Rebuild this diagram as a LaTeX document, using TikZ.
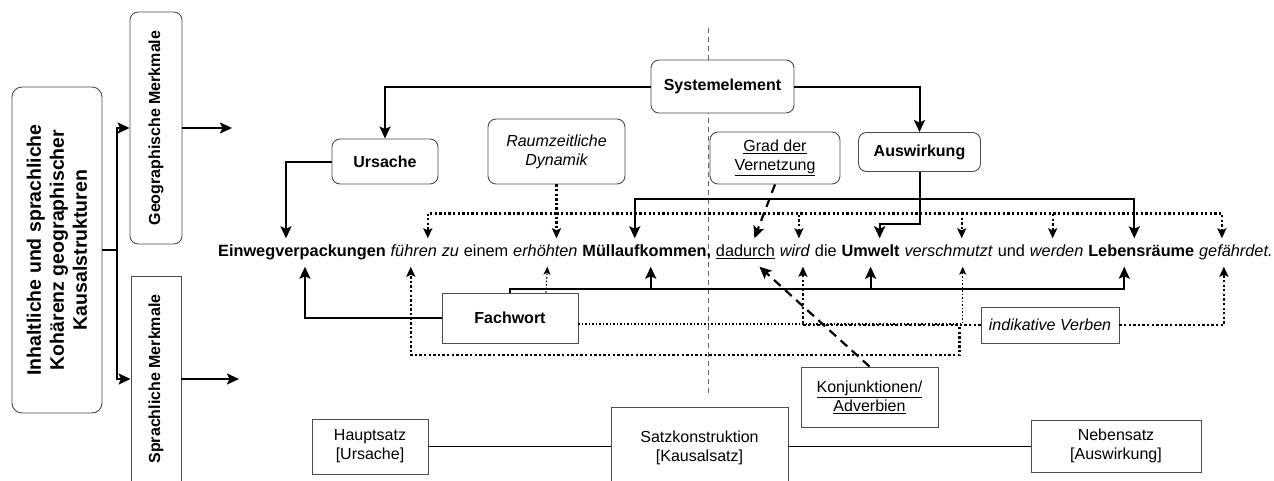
\documentclass[tikz,border=0pt]{standalone}
\usepackage{fontspec}
\setmainfont{Liberation Sans}
\usetikzlibrary{%
    arrows.meta,
    calc,
    positioning
}
\newcommand{\boxfont}{\fontsize{16}{19}\selectfont}
\newcommand{\sentfont}{\fontsize{16.3}{19}\selectfont}
\newcommand{\wordgap}{4.5pt}
\tikzset{headarrow/.style = {-{Stealth[length=12pt,width=11pt,inset=2.5pt]}, line width=2pt}}
\tikzset{dotarrow/.style = {-{Stealth[length=10pt,width=9pt,inset=2pt]}, line width=2.3pt, dash pattern=on 2.3pt off 2.3pt}}
\tikzset{thindotarrow/.style = {-{Stealth[length=8pt,width=7pt,inset=2pt]}, line width=1.1pt, dash pattern=on 1.5pt off 2pt}}
\tikzset{dasharrow/.style = {-{Stealth[length=12pt,width=11pt,inset=2.5pt]}, line width=2.2pt, dash pattern=on 9pt off 6pt}}
\tikzset{roundbox/.style = {draw=black!70, line width=0.9pt, rounded corners=8pt, fill=white, align=center, inner sep=2pt}}
\tikzset{plainbox/.style = {draw=black!70, line width=0.9pt, fill=white, align=center, inner sep=2pt}}
\tikzset{word/.style = {inner xsep=0pt, inner ysep=6pt, text height=12pt, text depth=4pt, font=\sentfont}}

\begin{document}
\begin{tikzpicture}[x=1pt, y=-1pt, font=\boxfont]
    \useasboundingbox (0,0) rectangle (1274,480);

    % separator
    \draw[black!60, line width=0.8pt, dash pattern=on 5pt off 4pt] (708,28) -- (708,393);

    % left column
    \node[roundbox, rotate=90, rounded corners=10pt, minimum width=326pt, minimum height=90pt,
        font=\fontsize{19.5}{23}\selectfont\bfseries] (box-ikk) at (57,250)
        {Inhaltliche und sprachliche\\Kohärenz geographischer\\Kausalstrukturen};
    \node[roundbox, rotate=90, minimum width=232pt, minimum height=52pt, font=\boxfont\bfseries] (box-geo) at (156,128) {Geographische Merkmale};
    \node[plainbox, rotate=90, minimum width=206pt, minimum height=50pt, font=\boxfont\bfseries] (box-spr) at (156,379) {Sprachliche Merkmale};
    \coordinate (geo-end) at (232,128);
    \coordinate (spr-end) at (239,379);

    \draw[headarrow] (box-ikk.south) -- ++(15,0) |- (box-geo.north);
    \draw[headarrow] (box-ikk.south) -- ++(15,0) |- (box-spr.north);
    \draw[headarrow] (box-geo.south) -- (geo-end);
    \draw[headarrow] (box-spr.south) -- (spr-end);

    % sentence
    \node[word, anchor=base west] (w-ein) at (218,256.5) {\textbf{Einwegverpackungen}};
    \node[word, base right=\wordgap of w-ein] (w-fue) {\textit{führen}};
    \node[word, base right=\wordgap of w-fue] (w-zu) {\textit{zu}};
    \node[word, base right=\wordgap of w-zu] (w-einem) {einem};
    \node[word, base right=\wordgap of w-einem] (w-erh) {\textit{erhöhten}};
    \node[word, base right=\wordgap of w-erh] (w-mue) {\textbf{Müllaufkommen,}};
    \node[word, base right=\wordgap of w-mue] (w-dad) {\underline{dadurch}};
    \node[word, base right=\wordgap of w-dad] (w-wird) {\textit{wird}};
    \node[word, base right=\wordgap of w-wird] (w-die) {die};
    \node[word, base right=\wordgap of w-die] (w-umw) {\textbf{Umwelt}};
    \node[word, base right=\wordgap of w-umw] (w-ver) {\textit{verschmutzt}};
    \node[word, base right=\wordgap of w-ver] (w-und) {und};
    \node[word, base right=\wordgap of w-und] (w-wer) {\textit{werden}};
    \node[word, base right=\wordgap of w-wer] (w-leb) {\textbf{Lebensräume}};
    \node[word, base right=\wordgap of w-leb] (w-gef) {\textit{gefährdet.}};

    % upper boxes
    \node[roundbox, minimum width=143pt, minimum height=53pt, font=\boxfont\bfseries] (box-sys) at (722.5,86.5) {Systemelement};
    \node[roundbox, minimum width=106pt, minimum height=45pt, font=\boxfont\bfseries] (box-urs) at (385,161.5) {Ursache};
    \node[roundbox, minimum width=137pt, minimum height=65pt, font=\boxfont\itshape] (box-rz) at (556.5,151.5) {Raumzeitliche\\Dynamik};
    \node[roundbox, minimum width=130pt, minimum height=52pt] (box-grad) at (775,158) {\underline{Grad der}\\\underline{Vernetzung}};
    \node[roundbox, minimum width=122pt, minimum height=39pt, font=\boxfont\bfseries] (box-aus) at (919.5,152) {Auswirkung};

    \draw[headarrow] (box-sys.west) -| (box-urs.north);
    \draw[headarrow] (box-sys.east) -| (box-aus.north);
    \draw[headarrow] (box-urs.west) -| ([xshift=-16pt]w-ein.north);

    \draw[dotarrow] (box-rz.south) -- (box-rz.south |- w-erh.north);
    \coordinate (rz-bus) at ($(box-rz.south)+(0,29)$);
    \foreach \w/\dx in {fue/14pt, wird/4pt, ver/13pt, wer/-4pt, gef/-14pt}
        \draw[dotarrow] (rz-bus) -| ([xshift=\dx]w-\w.north);

    \coordinate (aus-bus) at ($(box-aus.south)+(0,27)$);
    \draw[headarrow] (box-aus.south) -- (aus-bus) -| ([xshift=-12pt]w-mue.north);
    \draw[headarrow] (aus-bus) -| ([xshift=-7pt]w-leb.north);
    \draw[headarrow] (box-aus.south) -- ++(0,52) -| ([xshift=9pt]w-umw.north);

    \draw[dasharrow] (box-grad.south) -- ([xshift=9pt]w-dad.north);

    % lower boxes
    \node[plainbox, minimum width=136pt, minimum height=50pt, font=\boxfont\bfseries] (box-fw) at (510,318) {Fachwort};
    \node[plainbox, minimum width=138pt, minimum height=36pt, font=\boxfont\itshape] (box-ind) at (1050,325) {indikative Verben};
    \node[plainbox, minimum width=137pt, minimum height=60pt] (box-konj) at (869.5,397) {\underline{Konjunktionen/}\\\underline{Adverbien}};

    \draw[headarrow] (box-fw.west) -| ([xshift=3pt]w-ein.south);
    \coordinate (fw-bus) at ([yshift=4pt]box-fw.north);
    \foreach \w/\dx in {mue/4pt, umw/0pt, leb/-17pt}
        \draw[headarrow] (box-fw.north) -- (fw-bus) -| ([xshift=\dx]w-\w.south);
    \draw[thindotarrow] ([xshift=36pt]box-fw.north) -- ([xshift=2pt]w-erh.south);
    \draw[thindotarrow] ([yshift=-6pt]box-fw.east) -| ([xshift=14pt]w-ver.south);

    \draw[dotarrow] (box-ind.west) -| ([xshift=8pt]w-wird.south);
    \draw[dotarrow] (box-ind.west) -- ++(-21,0) -- ++(0,30) -| ([xshift=-3pt]w-fue.south);
    \draw[dotarrow] (box-ind.east) -| ([xshift=-12pt]w-gef.south);

    \draw[dasharrow] (box-konj.north) -- ([xshift=14pt]w-dad.south);

    % sentence construction
    \node[plainbox, minimum width=116pt, minimum height=55pt] (box-haupt) at (370,446.5) {Hauptsatz\\{[Ursache]}};
    \node[plainbox, minimum width=177pt, minimum height=81pt] (box-satz) at (699.5,447.5) {Satzkonstruktion\\{[Kausalsatz]}};
    \node[plainbox, minimum width=170pt, minimum height=52pt] (box-neben) at (1116,446) {Nebensatz\\{[Auswirkung]}};

    \draw[line width=0.9pt] (box-haupt.east) -- (box-haupt.east -| box-satz.west);
    \draw[line width=0.9pt] (box-neben.west -| box-satz.east) -- (box-neben.west);
\end{tikzpicture}
\end{document}
